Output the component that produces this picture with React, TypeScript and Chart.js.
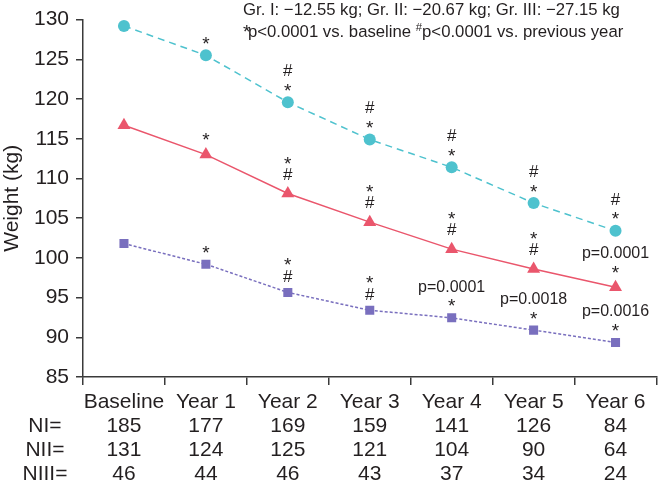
import React, { useEffect, useRef } from "react";
import { Chart, registerables } from "chart.js";

Chart.register(...registerables);

// ---------- data ----------
const categories = ["Baseline", "Year 1", "Year 2", "Year 3", "Year 4", "Year 5", "Year 6"];
const nGroupI = [185, 177, 169, 159, 141, 126, 84];
const nGroupII = [131, 124, 125, 121, 104, 90, 64];
const nGroupIII = [46, 44, 46, 43, 37, 34, 24];
const rowLabels = ["NI=", "NII=", "NIII="];

const groupI = [129.2, 125.5, 119.6, 114.9, 111.4, 106.9, 103.4];
const groupII = [116.7, 113.0, 108.1, 104.5, 101.1, 98.6, 96.3];
const groupIII = [101.8, 99.2, 95.65, 93.4, 92.45, 90.9, 89.35];

// annotation lines listed from the point upward
const marksI = [[], ["*"], ["*", "#"], ["*", "#"], ["*", "#"], ["*", "#"], ["*", "#"]];
const marksII = [[], ["*"], ["#", "*"], ["#", "*"], ["#", "*"], ["#", "*"], ["*", "p=0.0001"]];
const marksIII = [[], ["*"], ["#", "*"], ["#", "*"], ["*", "p=0.0001"], ["*", "p=0.0018"], ["*", "p=0.0016"]];

const headerLine1 = "Gr. I: \u221212.55 kg; Gr. II: \u221220.67 kg; Gr. III: \u221227.15 kg";
const headerStar = "*";
const headerPartA = "p<0.0001 vs. baseline ";
const headerHash = "#";
const headerPartB = "p<0.0001 vs. previous year";

const yTitle = "Weight (kg)";
const yMin = 85;
const yMax = 130;
const yStep = 5;

// ---------- style ----------
const FONT = "'Liberation Sans', Arial, Helvetica, sans-serif";
const TEXT = "#231f20";
const AXIS = "#3a3a3a";
const CYAN = "rgb(78,194,206)";
const RED = "rgb(234,86,108)";
const PURPLE = "rgb(121,111,190)";

const TICK_FS = 21;
const LINE_H = 24;
const X_TICK_LEN = 8;
const X_TICK_PAD = 5;

function visualBaseline(text: string, vc: number, fs: number) {
  if (text === "*") return vc + 0.58 * fs;
  if (text === "#") return vc + 0.34 * fs;
  return vc + 0.36 * fs;
}

const annotationPlugin = {
  id: "annotations",
  afterDatasetsDraw(chart: any) {
    const ctx = chart.ctx;
    const sets = [
      { marks: marksI, base: 16.5 },
      { marks: marksII, base: 19.5 },
      { marks: marksIII, base: 16.5 },
    ];
    ctx.save();
    ctx.fillStyle = TEXT;
    ctx.textAlign = "center";
    ctx.textBaseline = "alphabetic";
    sets.forEach((s, di) => {
      const meta = chart.getDatasetMeta(di);
      s.marks.forEach((lines: string[], i: number) => {
        const el = meta.data[i];
        if (!el) return;
        lines.forEach((t, li) => {
          const vc = el.y - s.base - li * 15.5;
          const size = t === "*" ? 19 : t === "#" ? 17 : 16;
          ctx.font = `${size}px ${FONT}`;
          ctx.fillText(t, el.x, visualBaseline(t, vc, size));
        });
      });
    });
    ctx.restore();
  },
  afterDraw(chart: any) {
    const ctx = chart.ctx;
    const xs = chart.scales.x;
    ctx.save();
    ctx.fillStyle = TEXT;
    // row labels of the N table
    ctx.font = `${TICK_FS}px ${FONT}`;
    ctx.textAlign = "center";
    ctx.textBaseline = "middle";
    rowLabels.forEach((lab, i) => {
      const y = xs.top + X_TICK_LEN + X_TICK_PAD + LINE_H * (i + 1.5);
      ctx.fillText(lab, 45, y);
    });
    // header
    const hx = 243;
    let fs = 16.5;
    ctx.font = `${fs}px ${FONT}`;
    const w = ctx.measureText(headerLine1).width;
    fs = fs * 377 / w;
    ctx.font = `${fs}px ${FONT}`;
    ctx.textAlign = "left";
    ctx.textBaseline = "alphabetic";
    ctx.fillText(headerLine1, hx, 15);
    let x = hx;
    const y2 = 37;
    ctx.font = `${fs * 1.15}px ${FONT}`;
    ctx.fillText(headerStar, x, y2 + 1);
    x += ctx.measureText(headerStar).width - 2.5;
    ctx.font = `${fs}px ${FONT}`;
    ctx.fillText(headerPartA, x, y2);
    x += ctx.measureText(headerPartA).width;
    ctx.font = `${fs * 0.68}px ${FONT}`;
    ctx.fillText(headerHash, x, y2 - 6);
    x += ctx.measureText(headerHash).width;
    ctx.font = `${fs}px ${FONT}`;
    ctx.fillText(headerPartB, x, y2);
    ctx.restore();
  },
};

export default function App() {
  const ref = useRef<HTMLCanvasElement | null>(null);
  useEffect(() => {
    if (!ref.current) return;
    const labels = categories.map((c, i) => [c, String(nGroupI[i]), String(nGroupII[i]), String(nGroupIII[i])]);
    const chart = new Chart(ref.current, {
      type: "line",
      data: {
        labels,
        datasets: [
          {
            label: "Group I",
            data: groupI,
            borderColor: CYAN,
            backgroundColor: CYAN,
            borderWidth: 1.5,
            borderDash: [7, 5],
            pointStyle: "circle",
            pointRadius: 6,
            pointBorderWidth: 0,
            tension: 0,
          },
          {
            label: "Group II",
            data: groupII,
            borderColor: RED,
            backgroundColor: RED,
            borderWidth: 1.5,
            pointStyle: "triangle",
            pointRadius: 7.5,
            pointBorderWidth: 0,
            tension: 0,
          },
          {
            label: "Group III",
            data: groupIII,
            borderColor: PURPLE,
            backgroundColor: PURPLE,
            borderWidth: 1.5,
            borderDash: [3, 2],
            pointStyle: "rect",
            pointRadius: 6.4,
            pointBorderWidth: 0,
            tension: 0,
          },
        ],
      },
      options: {
        responsive: false,
        animation: false,
        layout: { padding: { top: 12.5, right: 3, left: 0, bottom: 0 } },
        plugins: {
          legend: { display: false },
          tooltip: { enabled: false },
        },
        scales: {
          x: {
            type: "category",
            offset: true,
            grid: {
              offset: true,
              drawOnChartArea: false,
              drawTicks: true,
              tickLength: X_TICK_LEN,
              color: AXIS,
              lineWidth: 1.5,
            },
            border: { color: AXIS, width: 1.5 },
            ticks: {
              color: TEXT,
              font: { family: FONT, size: TICK_FS, lineHeight: LINE_H / TICK_FS },
              padding: X_TICK_PAD,
              maxRotation: 0,
              autoSkip: false,
            },
            afterFit: (s: any) => {
              s.height = 109;
            },
          },
          y: {
            min: yMin,
            max: yMax,
            ticks: {
              stepSize: yStep,
              padding: 7,
              color: TEXT,
              font: { family: FONT, size: TICK_FS },
            },
            grid: {
              drawOnChartArea: false,
              tickLength: 7,
              color: AXIS,
              lineWidth: 1.5,
            },
            border: { color: AXIS, width: 1.5 },
            title: {
              display: true,
              text: yTitle,
              color: TEXT,
              font: { family: FONT, size: 21 },
              padding: 0,
            },
            afterFit: (s: any) => {
              s.width = 83;
            },
          },
        },
      },
      plugins: [annotationPlugin],
    } as any);
    return () => chart.destroy();
  }, []);
  return (
    <div style={{ position: "fixed", left: 0, top: 0, width: 664, height: 486, background: "#fff" }}>
      <canvas ref={ref} width={664} height={486} style={{ display: "block" }} />
    </div>
  );
}
